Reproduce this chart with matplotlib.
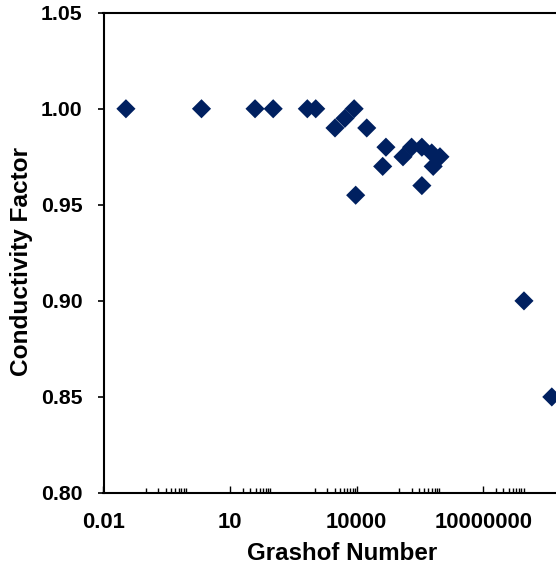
import matplotlib
matplotlib.use('Agg')
import matplotlib.pyplot as plt
from matplotlib.ticker import FixedLocator, NullFormatter

plt.rcParams['font.family'] = ['Liberation Sans', 'DejaVu Sans']

# 数据 (Grashof number vs conductivity factor)
grashof = [0.034, 2.1, 39, 105, 676, 1070, 3060, 5250, 8700, 9460, 17300,
           41300, 49300, 1.25e5, 2.0e5, 3.5e5, 3.5e5, 6.0e5, 6.5e5, 9.4e5,
           9.2e7, 4.2e8]
cond_factor = [1.00, 1.00, 1.00, 1.00, 1.00, 1.00, 0.990, 0.995, 1.00, 0.955,
               0.990, 0.970, 0.980, 0.975, 0.980, 0.980, 0.960, 0.977, 0.970,
               0.975, 0.900, 0.850]

x_major = [0.01, 10, 10000, 10000000, 1e10]
x_major_labels = ['0.01', '10', '10000', '10000000', '']
x_minor = ([k * 0.1 for k in range(1, 10)] + [k * 10 for k in range(2, 10)]
           + [k * 1000 for k in range(1, 10)] + [k * 1e5 for k in range(1, 10)]
           + [k * 1e7 for k in range(2, 10)])
y_ticks = [0.80, 0.85, 0.90, 0.95, 1.00, 1.05]

fig = plt.figure(figsize=(5.56, 5.71), dpi=100)
# plot area runs past the right edge (cropped like the original)
ax = fig.add_axes([103.5 / 556, 78 / 571, 506.4 / 556, 480.3 / 571])

ax.scatter(grashof, cond_factor, marker='D', s=95, color='#002060',
           edgecolors='none', zorder=3, clip_on=False)

ax.set_xscale('log')
ax.set_xlim(0.01, 1e10)
ax.set_ylim(0.80, 1.05)

ax.xaxis.set_major_locator(FixedLocator(x_major))
ax.set_xticklabels(x_major_labels)
ax.xaxis.set_minor_locator(FixedLocator(x_minor))
ax.xaxis.set_minor_formatter(NullFormatter())
ax.set_yticks(y_ticks)
ax.set_yticklabels(['%.2f' % v for v in y_ticks])

for s in ax.spines.values():
    s.set_linewidth(1.5)
ax.spines['right'].set_visible(False)

ax.tick_params(axis='x', which='major', direction='in', length=5, width=1,
               pad=14, labelsize=15.8)
ax.tick_params(axis='x', which='minor', direction='in', length=3.5, width=1)
ax.tick_params(axis='y', which='major', direction='out', length=4, width=1.2,
               pad=11, labelsize=15.3)
for lab in ax.get_xticklabels() + ax.get_yticklabels():
    lab.set_fontweight('bold')

fig.text(341.7 / 556, 1 - 553 / 571, 'Grashof Number', ha='center', va='center',
         fontsize=17.4, fontweight='bold')
fig.text(22 / 556, 1 - 262 / 571, 'Conductivity Factor', ha='center', va='center',
         rotation=90, fontsize=17.6, fontweight='bold')

plt.savefig('out.png', dpi=100)
